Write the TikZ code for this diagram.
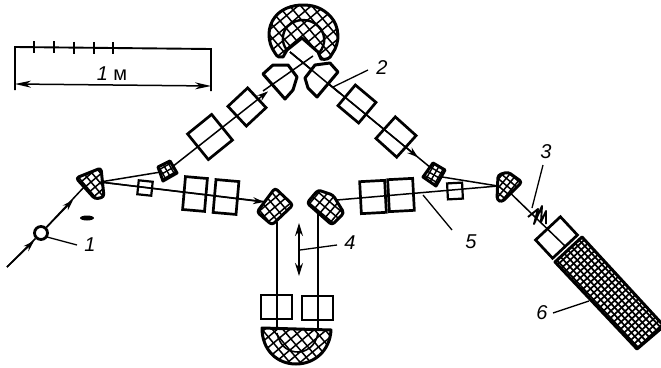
\documentclass[tikz,border=0pt]{standalone}
\usepackage{fontspec}
\setmainfont{Liberation Sans}
\usetikzlibrary{arrows.meta}
\tikzset{
  beam/.style={line width=1.5pt},
  leader/.style={line width=1.3pt},
  quad/.style={draw,line width=2.7pt,inner sep=0pt,outer sep=0pt},
  lab/.style={font=\fontsize{20}{20}\selectfont\itshape,inner sep=0pt},
  outl/.style={line width=3pt,line join=round},
  head/.style={-{Stealth[length=11pt,width=7pt]}},
}
% centre, path, spacing, angle, line width, reach
\newcommand\hatched[6]{%
  \begin{scope}
    \clip #2;
    \fill[white] #2;
    \begin{scope}[shift={#1},rotate=#4,line width=#5]
      \foreach \k in {-40,...,40}{
        \draw (-#6,\k*#3) -- (#6,\k*#3);
        \draw (\k*#3,-#6) -- (\k*#3,#6);
      }
    \end{scope}
  \end{scope}
  \draw[outl] #2;
}
\begin{document}
\begin{tikzpicture}[x=1pt,y=-1pt]
\useasboundingbox (0,0) rectangle (661,367);
\fill[white] (0,0) rectangle (661,367);

% scale
\coordinate (sTL) at (15,47); \coordinate (sTR) at (211,49);
\coordinate (sBL) at (15,90); \coordinate (sBR) at (211,91);
\draw[line width=1.9pt] (sBL) -- (sTL) -- (sTR) -- (sBR);
\draw[line width=1.5pt,{Stealth[length=16pt,width=7pt,inset=5pt]}-{Stealth[length=16pt,width=7pt,inset=5pt]}] (15,84) -- (211,86);
\foreach \x/\y in {34/47.2,54/47.4,74/47.6,94/47.8,113/48}
  \draw[line width=1.3pt] (\x,\y-6) -- (\x,\y+6);
\node[lab] (scale) at (112,74) {1 {\upshape м}};

% input
\coordinate (inA) at (7,267);
\coordinate (inB) at (85,186);
\node[circle,draw,line width=2.8pt,fill=white,minimum size=13pt,inner sep=0pt] (foil) at (41,233) {};
\draw[beam] (inA) -- (foil);
\draw[beam] (foil) -- (inB);
\draw[beam,head] (inA) -- (34,241);
\draw[beam,head] (foil) -- (73,200);
\fill (87,218) ellipse (7pt and 2.5pt);

% beams
\coordinate (dL) at (100,182);
\coordinate (dR) at (498,186);
\coordinate (q1L) at (167,171);
\coordinate (q1R) at (431,168);
\coordinate (xL) at (313,56);
\coordinate (xR) at (290,52);
\draw[beam] (dL) -- (q1L);
\draw[beam] (436,176) -- (dR);
\draw[beam] (dL) -- (267,202);
\draw[beam] (337,200) -- (dR);
\draw[beam,head] (q1L) -- (268,91.4);
\draw[beam] (xR) -- (q1R);
\draw[beam,head] (xR) -- (418,157.3);
\draw[beam,head] (dL) -- (264,202);
\draw[beam] (277,222) -- (277,329);
\draw[beam] (318,214) -- (318,330);
\draw[beam] (502,185) -- (565,246);

% quadrupoles upper
\node[quad,minimum width=31pt,minimum height=33pt,rotate=39] (u1) at (210,137) {};
\node[quad,minimum width=27pt,minimum height=27pt,rotate=43] (u2) at (247,107) {};
\node[quad,minimum width=27pt,minimum height=27pt,rotate=-40] (u3) at (357,104) {};
\node[quad,minimum width=28pt,minimum height=29pt,rotate=-42] (u4) at (396,137) {};
% lower left / right
\node[quad,minimum width=14pt,minimum height=14pt,rotate=-6,line width=2.2pt] (s1) at (145,188) {};
\node[quad,minimum width=22pt,minimum height=33pt,rotate=-5] (l1) at (195,194) {};
\node[quad,minimum width=23pt,minimum height=33pt,rotate=-5] (l2) at (226,197) {};
\node[quad,minimum width=25pt,minimum height=32pt,rotate=3] (r1) at (373,197) {};
\node[quad,minimum width=25pt,minimum height=32pt,rotate=3] (r2) at (401,195) {};
\node[quad,minimum width=15pt,minimum height=16pt,rotate=3,line width=2.2pt] (s2) at (455,191) {};
\node[quad,minimum width=31pt,minimum height=24pt] (b1) at (276.5,307) {};
\node[quad,minimum width=31pt,minimum height=24pt] (b2) at (317.5,308) {};
\node[quad,minimum width=25pt,minimum height=34pt,rotate=-47] (e1) at (556.5,237.5) {};

% top magnet
\hatched{(303,35)}{(283,57) -- (287,50) -- (302,38) -- (318,52) -- (321,59) .. controls (326,60) and (330,59) .. (332,54) .. controls (341,42) and (339,26) .. (331,17) .. controls (322,7) and (312,5) .. (303,5) .. controls (292,5) and (281,9) .. (275,17) .. controls (267,27) and (267,42) .. (275,53) .. controls (277,57) and (280,58) .. (283,57) -- cycle}{8.5}{40}{1.5pt}{70}
\draw[outl,line width=2.4pt] (287,50) .. controls (280,42) and (283,30) .. (288,26) .. controls (296,18) and (310,18) .. (318,26) .. controls (325,32) and (327,44) .. (319,53);

% deflecting magnets upper
\draw[outl,fill=white] (263,74) -- (273,65) -- (288,65) -- (297,77) -- (293,90) -- (285,99) -- cycle;
\draw[outl,fill=white] (305,78) -- (315,65) -- (330,63) -- (338,72) -- (317,97) -- (308,88) -- cycle;
\draw[beam] (263,91) -- (xL);
\draw[beam] (xR) -- (340,93.5);

% dipoles
\hatched{(91,182)}{[rounded corners=3pt] (76,178) -- (101,168) -- (104,197) -- (95,199) -- cycle}{6.5}{40}{1.5pt}{40}
\hatched{(507,186)}{[rounded corners=3pt] (498,175) -- (508,172) -- (522,182) -- (502,202) -- (497,200) -- cycle}{5.5}{-40}{1.5pt}{40}
% small magnets
\hatched{(167,171)}{(158,167) -- (170,161) -- (177,173) -- (163,181) -- cycle}{5}{30}{1.4pt}{30}
\hatched{(434,175)}{(423,177) -- (433,163) -- (445,170) -- (436,186) -- cycle}{5}{-30}{1.4pt}{30}
% lower deflectors
\hatched{(275,207)}{[rounded corners=3pt] (257,212) -- (275,188) -- (293,205) -- (272,225) -- cycle}{7}{40}{1.5pt}{40}
\hatched{(325,207)}{[rounded corners=3pt] (307,203) -- (318,190) -- (333,195) -- (344,213) -- (332,225) -- cycle}{7}{-40}{1.5pt}{40}

% bottom magnet
\hatched{(296,345)}{(262,328) -- (331,330) .. controls (330,350) and (315,364) .. (296,364) .. controls (277,364) and (262,350) .. (262,328) -- cycle}{8}{40}{1.5pt}{60}
\draw[line width=1.6pt] (277,333) .. controls (280,348) and (290,352) .. (298,352) .. controls (306,352) and (316,346) .. (318,333);

% block 6
\hatched{(608,293)}{(582,237) -- (664,326) -- (637,349) -- (555,262) -- cycle}{5}{-47}{1.7pt}{90}

% coil 3
\draw[line width=1.9pt,line join=round] (528,217) -- (538,209) -- (534,224) -- (542,206) -- (541,222) -- (546,211) -- (546,224);

% labels and leaders
\node[lab] (n1) at (90,245) {1};
\node[lab] (n2) at (382,68) {2};
\node[lab] (n3) at (546,152) {3};
\node[lab] (n4) at (350,243) {4};
\node[lab] (n5) at (471,242) {5};
\node[lab] (n6) at (542,313) {6};
\coordinate (t1) at (47,237);
\coordinate (t2) at (333,87);
\coordinate (t3) at (532,208);
\coordinate (t4) at (300,250);
\coordinate (t5) at (423,195);
\coordinate (t6) at (589,301);
\draw[leader] (77,245) -- (t1);
\draw[leader] (368,70) -- (t2);
\draw[leader] (543,165) -- (t3);
\draw[leader] (337,245) -- (t4);
\draw[leader] (452,230) -- (t5);
\draw[leader] (553,313) -- (t6);
\coordinate (ud1) at (299,223); \coordinate (ud2) at (299,276);
\draw[line width=1.5pt,{Stealth[length=13pt,width=8pt]}-{Stealth[length=13pt,width=8pt]}] (ud1) -- (ud2);
\end{tikzpicture}
\end{document}
